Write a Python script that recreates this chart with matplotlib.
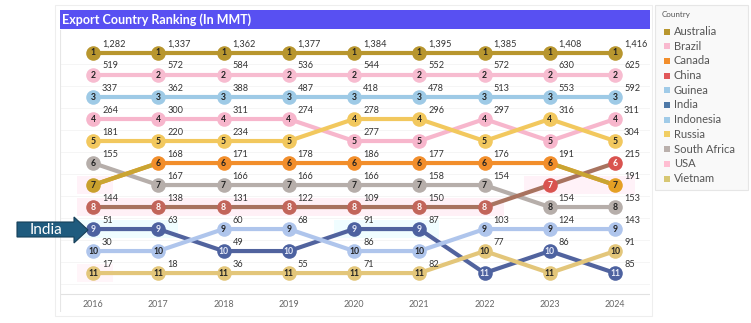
import matplotlib
matplotlib.use("Agg")
import matplotlib.pyplot as plt
from matplotlib.patches import Rectangle, Polygon

# ---------------- data ----------------
years = [2016, 2017, 2018, 2019, 2020, 2021, 2022, 2023, 2024]
countries = ["Australia", "Brazil", "Canada", "China", "Guinea", "India",
             "Indonesia", "Russia", "South Africa", "USA", "Vietnam"]

rank_australia = [1, 1, 1, 1, 1, 1, 1, 1, 1]
val_australia = [1282, 1337, 1362, 1377, 1384, 1395, 1385, 1408, 1416]
rank_brazil = [2, 2, 2, 2, 2, 2, 2, 2, 2]
val_brazil = [519, 572, 584, 536, 544, 552, 572, 630, 625]
rank_indonesia = [3, 3, 3, 3, 3, 3, 3, 3, 3]
val_indonesia = [337, 362, 388, 487, 418, 478, 513, 553, 592]
rank_usa = [4, 4, 4, 4, 5, 5, 4, 5, 4]
val_usa = [264, 300, 311, 274, 277, None, 297, None, 311]
rank_russia = [5, 5, 5, 5, 4, 4, 5, 4, 5]
val_russia = [181, 220, 234, None, 278, 296, None, 316, 304]
rank_southafrica = [6, 7, 7, 7, 7, 7, 7, 8, 8]
val_southafrica = [155, 167, 166, 166, 166, 158, 154, 154, 153]
rank_canada = [7, 6, 6, 6, 6, 6, 6, 6, 7]
val_canada = [None, 168, 171, 178, 186, 177, 176, 191, 191]
rank_china = [8, 8, 8, 8, 8, 8, 8, 7, 6]
val_china = [144, 138, 131, 122, 109, 150, None, None, 215]
rank_india = [9, 9, 10, 10, 9, 9, 11, 10, 11]
val_india = [51, 63, 49, None, 91, 87, None, 86, 85]
rank_guinea = [10, 10, 9, 9, 10, 10, 9, 9, 9]
val_guinea = [30, None, 60, 68, 86, None, 103, 124, 143]
rank_vietnam = [11, 11, 11, 11, 11, 11, 10, 11, 10]
val_vietnam = [17, 18, 36, 55, 71, 82, 77, None, 91]

series = {
    "Australia": (rank_australia, val_australia),
    "Brazil": (rank_brazil, val_brazil),
    "Indonesia": (rank_indonesia, val_indonesia),
    "USA": (rank_usa, val_usa),
    "Russia": (rank_russia, val_russia),
    "South Africa": (rank_southafrica, val_southafrica),
    "Canada": (rank_canada, val_canada),
    "China": (rank_china, val_china),
    "India": (rank_india, val_india),
    "Guinea": (rank_guinea, val_guinea),
    "Vietnam": (rank_vietnam, val_vietnam),
}

colors = {
    "Australia": "#b8962e",
    "Brazil": "#f9b9cf",
    "Canada": "#f28e2b",
    "China": "#e15759",
    "Guinea": "#a0cbe8",
    "India": "#4e79a7",
    "Indonesia": "#a0cbe8",
    "Russia": "#f1ce63",
    "South Africa": "#bab0ac",
    "USA": "#ffbed2",
    "Vietnam": "#d7c773",
}
line_colors = {
    "Australia": "#b8962e",
    "Brazil": "#f7bcd0",
    "Canada": "#f28e2b",
    "China": "#a8735f",
    "Guinea": "#afc5ec",
    "India": "#51639e",
    "Indonesia": "#9ecae6",
    "Russia": "#f2c85e",
    "South Africa": "#b6aeaa",
    "USA": "#f7b6cc",
    "Vietnam": "#e3c67a",
}
dot_colors = dict(line_colors)
dot_colors["China"] = "#c2655a"
dot_colors["India"] = "#4d62a0"
text_colors = {c: "#222222" for c in countries}
text_colors["China"] = "#ffffff"
text_colors["India"] = "#e8ecf8"

W, H = 751, 323
plt.rcParams['font.family'] = ['Lato', 'DejaVu Sans']
fig = plt.figure(figsize=(W / 100, H / 100), dpi=100)

def fx(x):
    return x / W

def fy(y):
    return 1 - y / H

# outer panel
fig.patches.append(Rectangle((fx(55), fy(316)), (652 - 55) / W, (316 - 5) / H,
                             transform=fig.transFigure, facecolor="white",
                             edgecolor="#eeeeee", lw=0.8, zorder=0))

ax = fig.add_axes([fx(60), fy(312), 590 / W, 282 / H])
ax.set_zorder(3)
ax.patch.set_alpha(0)
ax.set_xlim(2015.494, 2024.536)
ax.set_ylim(12.77, -0.045)
ax.axis("off")

# faint row grid
for r in range(1, 12):
    ax.axhline(r + 0.5, color="#f4f4f4", lw=0.6, zorder=0)
ax.axhline(11.95, color="#e2e2e2", lw=0.8, zorder=0)
ax.axvline(2015.494, color="#e6e6e6", lw=0.8, zorder=0)

# faint highlight bands
bands = [(2015.75, 2022.3, 7.6, 8.4, "#fff0f6"), (2015.75, 2016.3, 6.6, 7.4, "#fff2f8"),
         (2022.6, 2024.3, 6.6, 7.4, "#fff2f8"), (2015.75, 2017.3, 8.6, 9.4, "#effdff"),
         (2019.7, 2021.3, 8.6, 9.4, "#f0fdff"), (2015.75, 2016.3, 10.6, 11.4, "#fff5f9")]
for x0, x1, y0, y1, c in bands:
    ax.fill_between([x0, x1], y0, y1, color=c, lw=0, zorder=0.5)

# lines
for c, (rk, vals) in series.items():
    ax.plot(years, rk, color=line_colors[c], lw=3.0, solid_capstyle="round",
            zorder=2)
# Canada at rank 7 segments appear gold
ax.plot(years[0:2], rank_canada[0:2], color="#c9a532", lw=3.0, zorder=2.1)
ax.plot(years[7:9], rank_canada[7:9], color="#c9a532", lw=3.0, zorder=2.1)

# circles and labels
for c, (rk, vals) in series.items():
    for i, (yr, r, v) in enumerate(zip(years, rk, vals)):
        dc = dot_colors[c]
        if c == "Canada" and r == 7:
            dc = "#c9a02c" if i == 0 else "#e5a024"
        if c == "China" and r < 8:
            dc = "#d9534f"
        ax.scatter([yr], [r], s=110, color=dc, zorder=3, linewidths=0)
        ax.text(yr, r, str(r), ha="center", va="center", fontsize=6.2,
                fontweight="bold", color=text_colors[c], zorder=4)
        if v is not None:
            ax.text(yr + 9 * 0.015326, r - 9 / 22, f"{v:,}", ha="left",
                    va="center", fontsize=6.6, color="#333333", zorder=4)

for yr in years:
    ax.text(yr, 12.41, str(yr), ha="center", va="center", fontsize=6.4,
            color="#666666")

# title bar
fig.patches.append(Rectangle((fx(60), fy(29)), 590 / W, 19 / H,
                             transform=fig.transFigure, facecolor="#5850f2",
                             edgecolor="none", zorder=1))
fig.text(fx(62), fy(19.5), "Export Country Ranking (In MMT)", color="white",
         fontsize=9.0, fontweight="bold", ha="left", va="center", zorder=2)

# legend panel
fig.patches.append(Rectangle((fx(655), fy(190)), (748 - 655) / W, 185 / H,
                             transform=fig.transFigure, facecolor="#f9f9f9",
                             edgecolor="#e6e6e6", lw=0.8, zorder=1))
fig.text(fx(662), fy(14), "Country", fontsize=5.8, color="#555555",
         ha="left", va="center", zorder=2)
for i, c in enumerate(countries):
    yy = 31.5 + i * 14.7
    fig.patches.append(Rectangle((fx(663.5), fy(yy + 3)), 6 / W, 6 / H,
                                 transform=fig.transFigure, facecolor=colors[c],
                                 edgecolor="none", zorder=2))
    fig.text(fx(674), fy(yy), c, fontsize=8, color="#555555", ha="left",
             va="center", zorder=2)

# India arrow
pts = [(17, 222), (74, 222), (74, 217), (88, 230), (74, 243), (74, 237), (17, 237)]
fig.patches.append(Polygon([(fx(x), fy(y)) for x, y in pts], closed=True,
                           transform=fig.transFigure, facecolor="#1f5b7e",
                           edgecolor="#163f58", lw=0.8, zorder=5))
fig.text(fx(46), fy(229.5), "India", color="white", fontsize=11,
         ha="center", va="center", zorder=6)

fig.savefig("out.png", dpi=100)
